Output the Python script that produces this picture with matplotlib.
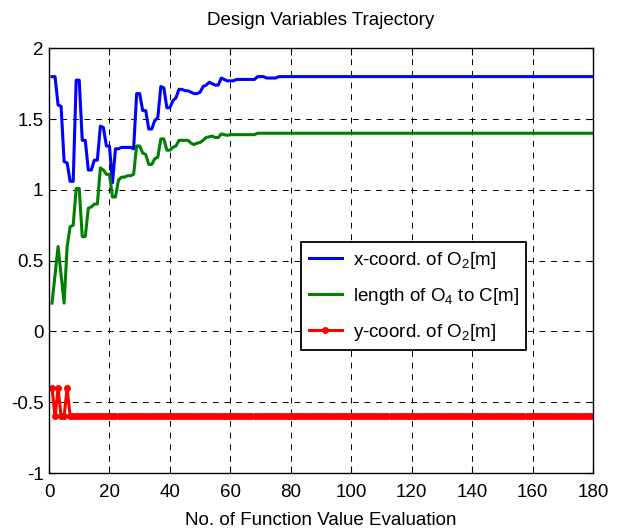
import numpy as np
import matplotlib
matplotlib.use("Agg")
import matplotlib.pyplot as plt

plt.rcParams['font.family'] = ['Liberation Sans', 'DejaVu Sans']
plt.rcParams['mathtext.fontset'] = 'custom'
plt.rcParams['mathtext.rm'] = 'Liberation Sans'
plt.rcParams['mathtext.it'] = 'Liberation Sans:italic'

# valori (valutazioni 1..180)
blue_head = [1.80, 1.80, 1.60, 1.59, 1.20, 1.19, 1.06, 1.06, 1.775, 1.775,
             1.35, 1.35, 1.14, 1.14, 1.21, 1.21, 1.45, 1.44, 1.31, 1.31,
             1.05, 1.29, 1.29, 1.30, 1.30, 1.30, 1.30, 1.29, 1.68, 1.68,
             1.56, 1.56, 1.43, 1.43, 1.49, 1.51, 1.73, 1.72, 1.58, 1.58,
             1.63, 1.65, 1.71, 1.71, 1.70, 1.70, 1.69, 1.68, 1.68, 1.69,
             1.73, 1.74, 1.76, 1.75, 1.74, 1.74, 1.79, 1.78, 1.77, 1.77,
             1.77, 1.78, 1.78, 1.78, 1.78, 1.78, 1.78, 1.78, 1.80, 1.80,
             1.80, 1.79, 1.79, 1.79, 1.79, 1.80, 1.80]
green_head = [0.20, 0.40, 0.60, 0.40, 0.20, 0.60, 0.74, 0.75, 1.01, 1.01,
              0.67, 0.67, 0.87, 0.88, 0.90, 0.90, 1.155, 1.14, 1.11, 1.11,
              0.95, 0.95, 1.07, 1.09, 1.09, 1.10, 1.10, 1.11, 1.31, 1.31,
              1.26, 1.25, 1.18, 1.18, 1.22, 1.23, 1.36, 1.36, 1.28, 1.28,
              1.30, 1.31, 1.35, 1.35, 1.35, 1.35, 1.33, 1.32, 1.33, 1.335,
              1.35, 1.37, 1.375, 1.38, 1.37, 1.37, 1.395, 1.39, 1.385, 1.39,
              1.39, 1.39, 1.39, 1.39, 1.39, 1.39, 1.39, 1.39, 1.40, 1.40,
              1.40, 1.40, 1.40, 1.40, 1.40, 1.40, 1.40]
red_head = [-0.4, -0.6, -0.4, -0.6, -0.6, -0.4, -0.6]

n_eval = 180
x_vals = np.arange(1, n_eval + 1)
blue_y = blue_head + [1.80] * (n_eval - len(blue_head))
green_y = green_head + [1.40] * (n_eval - len(green_head))
red_y = red_head + [-0.6] * (n_eval - len(red_head))

fig = plt.figure(figsize=(6.19, 5.31), dpi=100)
ax = fig.add_axes([49 / 619, 1 - 473 / 531, 544 / 619, 424.7 / 531])

ax.plot(x_vals, blue_y, color='#0000ff', lw=2.2, label=r'x-coord. of O$_2$[m]')
ax.plot(x_vals, green_y, color='#008000', lw=2.2, label=r'length of O$_4$ to C[m]')
ax.plot(x_vals, red_y, color='#ff0000', lw=2.2, marker='.', ms=8,
        label=r'y-coord. of O$_2$[m]')

ax.set_xlim(0, 180)
ax.set_ylim(-1, 2)
ax.set_xticks(np.arange(0, 181, 20))
ax.set_yticks([-1, -0.5, 0, 0.5, 1, 1.5, 2])
ax.set_yticklabels(['-1', '-0.5', '0', '0.5', '1', '1.5', '2'])
ax.tick_params(direction='in', top=True, right=True, length=5, width=0.8,
               labelsize=13.5, pad=8)
ax.tick_params(axis='y', pad=4)
ax.grid(True, color='black', linestyle=(0, (6, 6)), linewidth=0.7)
for s in ax.spines.values():
    s.set_linewidth(1.0)

ax.set_title('Design Variables Trajectory', fontsize=13.5, pad=17)
ax.set_xlabel('No. of Function Value Evaluation', fontsize=13.5, labelpad=8)

leg = ax.legend(loc='upper left', bbox_to_anchor=(252 / 544, (473 - 242.3) / 424.7),
                fontsize=13.5, frameon=True, fancybox=False, edgecolor='black',
                framealpha=1, handlelength=1.8, borderpad=0.4, labelspacing=0.8,
                handletextpad=0.55, borderaxespad=0)
leg.get_frame().set_linewidth(1.3)

fig.savefig('out.png', dpi=100)
